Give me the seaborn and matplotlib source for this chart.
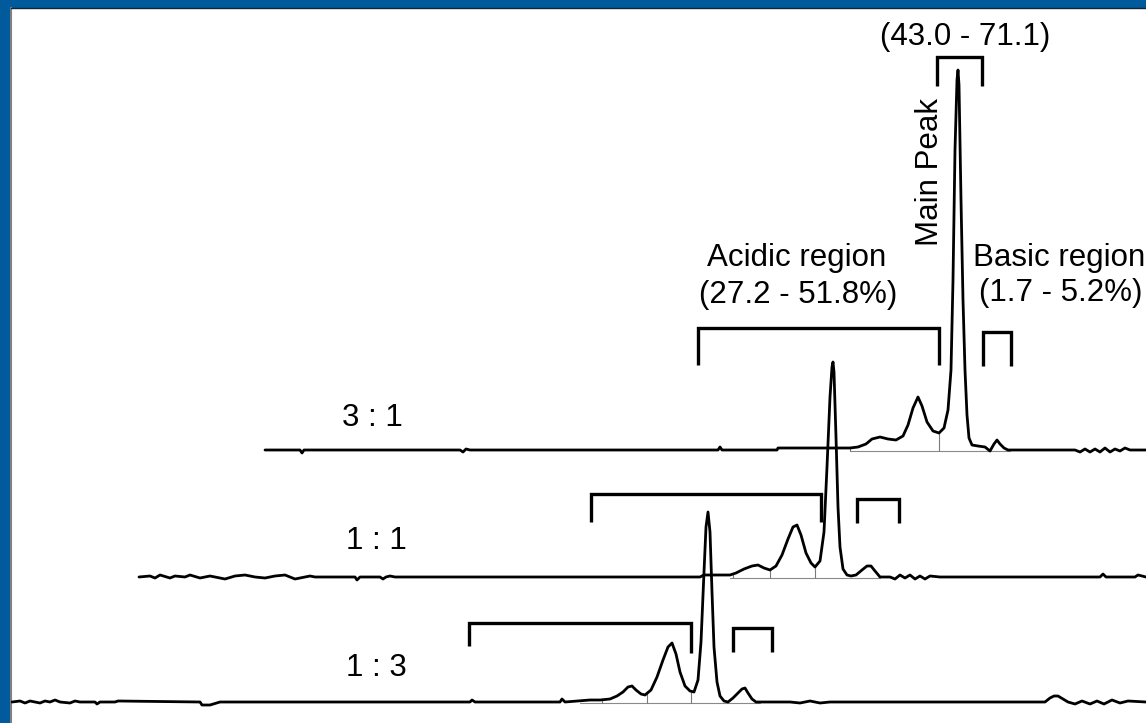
import numpy as np
import pandas as pd
import matplotlib
matplotlib.use("Agg")
import matplotlib.pyplot as plt
import seaborn as sns

sns.set_theme(style="white")
plt.rcParams['font.family'] = ['Liberation Sans', 'DejaVu Sans']

# ---------------- data (retention position, signal above baseline) ----------------
ratios = ["3 : 1", "1 : 1", "1 : 3"]
offsets = [273, 146, 21]

trace_31 = [(265, 0), (300, 0), (302, -3), (304, 0), (460, 0), (463, -2), (466, 1), (470, 0),
            (718, 0), (720, 3), (722, 0), (777, 0), (778, 2), (850, 2), (858, 3), (866, 6),
            (872, 11), (880, 13), (888, 11), (896, 10), (903, 14), (908, 25), (913, 42),
            (918, 53), (922, 44), (927, 28), (933, 19), (939, 17), (944, 22), (948, 40),
            (951, 80), (953, 170), (955, 300), (957, 370), (958, 380), (959, 365), (961, 250),
            (963, 150), (965, 80), (967, 35), (969, 12), (972, 5), (978, 4), (985, 3),
            (990, -1), (994, 6), (997, 10), (1000, 6), (1004, 2), (1008, 0), (1075, 0),
            (1080, -2), (1085, 1), (1090, -2), (1095, 1), (1100, -2), (1105, 2), (1110, -2),
            (1115, 1), (1120, -1), (1125, 2), (1130, 0), (1146, 0)]

trace_11 = [(139, 0), (150, 1), (155, -1), (160, 2), (170, -1), (175, 1), (185, 0), (190, 2),
            (200, -1), (210, 1), (215, 0), (225, -2), (235, 1), (245, 2), (255, 0), (265, -1),
            (275, 1), (285, 2), (295, -2), (310, 1), (315, 0), (325, 0), (355, 0), (357, -3),
            (360, 0), (380, 0), (383, -2), (386, 0), (390, 1), (395, 0), (440, 0), (600, 0),
            (700, 0), (704, 2), (730, 2), (736, 4), (744, 8), (752, 11), (758, 12), (764, 9),
            (770, 7), (776, 11), (782, 22), (788, 38), (793, 50), (797, 52), (801, 42),
            (806, 24), (811, 14), (815, 10), (820, 16), (824, 45), (827, 110), (830, 180),
            (832, 210), (833, 215), (834, 205), (836, 140), (838, 70), (840, 30), (843, 8),
            (847, 2), (851, 1), (856, 2), (862, 7), (867, 11), (871, 11), (875, 6), (880, 0),
            (890, 0), (895, -2), (900, 2), (905, -1), (910, 2), (915, -2), (920, 1), (925, -2),
            (930, 1), (940, 0), (1100, 0), (1103, 3), (1106, 0), (1135, 0), (1138, 2), (1146, 0)]

trace_13 = [(12, 0), (20, 1), (25, -1), (30, 1), (35, 0), (40, -1), (45, 1), (50, 0), (55, 2),
            (60, 0), (70, -1), (75, 1), (80, 0), (95, 0), (97, -2), (100, 0), (115, 0), (118, 1),
            (200, 0), (202, -3), (210, -3), (220, 0), (470, 0), (472, 2), (475, 0), (530, 0),
            (560, 0), (562, 3), (565, 0), (590, 2), (600, 2), (610, 3), (617, 6), (623, 10),
            (628, 15), (632, 16), (636, 12), (641, 8), (645, 7), (651, 12), (657, 25), (663, 42),
            (668, 55), (672, 59), (676, 48), (680, 30), (685, 16), (690, 11), (694, 10),
            (698, 22), (701, 60), (704, 130), (706, 175), (708, 190), (710, 170), (712, 110),
            (714, 55), (717, 20), (720, 6), (724, 1), (728, 0), (733, 4), (738, 9), (742, 13),
            (745, 14), (748, 9), (752, 3), (756, 0), (770, 0), (790, 0), (800, -1), (810, 1),
            (820, -1), (830, 0), (860, 0), (1040, 0), (1045, 0), (1050, 4), (1054, 6), (1058, 6),
            (1063, 3), (1068, 0), (1075, -2), (1082, 1), (1090, -2), (1097, 1), (1104, -2),
            (1112, 2), (1120, -1), (1128, 1), (1146, 0)]

traces = [trace_31, trace_11, trace_13]

# integration drop-line positions per trace
drops = [[850, 939], [733, 770, 815], [602, 647, 691]]
gray_base = [(850, 1010), (730, 880), (580, 760)]

# brackets: (x_left, x_right, y_top, y_left_end, y_right_end) in pixel rows
brackets = [(698, 939, 328, 365, 365), (983, 1011, 332, 366, 366), (937, 982, 57, 86, 86),
            (591, 821, 494, 522, 522), (857, 899, 499, 523, 523),
            (469, 691, 623, 646, 653), (733, 772, 628, 652, 652)]

labels = [("(43.0 - 71.1)", 965, 37, 0), ("Main Peak", 930, 172, 90),
          ("Acidic region", 797, 258, 0), ("(27.2 - 51.8%)", 798, 295, 0),
          ("Basic region", 1059, 258, 0), ("(1.7 - 5.2%)", 1061, 293, 0)]
ratio_pos = [(372, 418), (376, 541), (376, 668)]

# ---------------- figure ----------------
H = 723
fig = plt.figure(figsize=(11.46, 7.23), dpi=100)
fig.patch.set_facecolor("#005a9c")
ax = fig.add_axes([11 / 1146, 0, 1 - 11 / 1146, 715 / 723])
ax.set_facecolor("white")
ax.set_xlim(11, 1146)
ax.set_ylim(0, 715)

rows = []
for name, off, tr in zip(ratios, offsets, traces):
    for x, h in tr:
        rows.append({"ratio": name, "x": x, "signal": off + h})
df = pd.DataFrame(rows)

# thin gray baselines and drop lines
for off, tr, dl, gb in zip(offsets, traces, drops, gray_base):
    xs = np.array([p[0] for p in tr], float)
    ys = np.array([p[1] for p in tr], float)
    ax.plot(gb, [off - 1, off - 1], color="#8a8a8a", lw=0.8, zorder=1)
    for d in dl:
        ax.plot([d, d], [off - 1, off + np.interp(d, xs, ys)], color="#7a7a7a", lw=0.8, zorder=1)

sns.lineplot(data=df, x="x", y="signal", units="ratio", estimator=None, sort=False,
             color="black", lw=2.0, ax=ax, legend=False, zorder=3)

for xl, xr, yt, yl, yr in brackets:
    ax.plot([xl, xl, xr, xr], [H - yl, H - yt, H - yt, H - yr], color="black", lw=2.4,
            solid_joinstyle="miter", solid_capstyle="butt", zorder=4)

for txt, x, y, rot in labels:
    ax.text(x, H - y, txt, ha="center", va="center", rotation=rot, fontsize=22.5, color="black")
for txt, (x, y) in zip(ratios, ratio_pos):
    ax.text(x, H - y, txt, ha="center", va="center", fontsize=22.5, color="black")

ax.set_xlabel("")
ax.set_ylabel("")
ax.set_xticks([])
ax.set_yticks([])
for s in ["right", "bottom"]:
    ax.spines[s].set_visible(False)
ax.spines["left"].set_color("#808080")
ax.spines["left"].set_linewidth(1.5)
ax.spines["top"].set_color("#10243a")
ax.spines["top"].set_linewidth(1.0)

fig.savefig("out.png", dpi=100, facecolor=fig.get_facecolor())
